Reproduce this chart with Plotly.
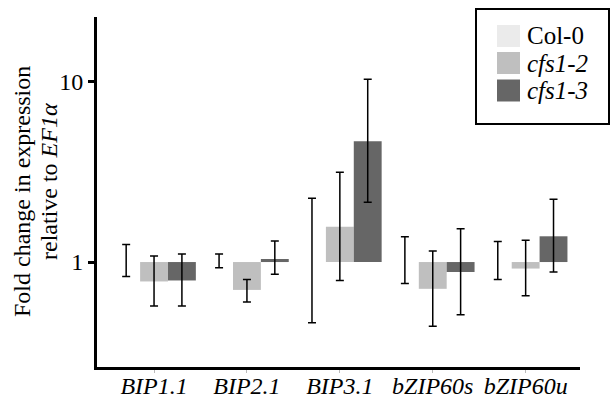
import plotly.graph_objects as go

genes = ["BIP1.1", "BIP2.1", "BIP3.1", "bZIP60s", "bZIP60u"]
series = ["Col-0", "cfs1-2", "cfs1-3"]
series_labels = ["Col-0", "<i>cfs1-2</i>", "<i>cfs1-3</i>"]
colors = ["#ebebeb", "#bfbfbf", "#666666"]

col0_vals = [1.0, 1.0, 1.0, 1.0, 1.0]
col0_hi = [1.25, 1.11, 2.26, 1.38, 1.30]
col0_lo = [0.83, 0.93, 0.46, 0.76, 0.80]

cfs12_vals = [0.78, 0.70, 1.57, 0.71, 0.92]
cfs12_hi = [1.08, 0.80, 3.15, 1.15, 1.32]
cfs12_lo = [0.57, 0.60, 0.79, 0.44, 0.65]

cfs13_vals = [0.79, 1.04, 4.68, 0.88, 1.39]
cfs13_hi = [1.11, 1.31, 10.35, 1.53, 2.23]
cfs13_lo = [0.57, 0.855, 2.15, 0.51, 0.88]

values = [col0_vals, cfs12_vals, cfs13_vals]
highs = [col0_hi, cfs12_hi, cfs13_hi]
lows = [col0_lo, cfs12_lo, cfs13_lo]

y_title_lines = ["Fold change in expression", "relative to <i>EF1α</i>"]

FONT = "Liberation Serif"

fig = go.Figure()
for name, c, v, hi, lo in zip(series, colors, values, highs, lows):
    fig.add_trace(go.Bar(
        x=genes,
        y=[vv - 1 for vv in v],
        base=1,
        name=name,
        marker=dict(color=c, line=dict(width=0)),
        error_y=dict(type="data", symmetric=False,
                     array=[h - vv for h, vv in zip(hi, v)],
                     arrayminus=[vv - l for vv, l in zip(v, lo)],
                     color="black", thickness=1.5, width=4),
        showlegend=False,
    ))

W, H = 611, 398
L, R, T, B = 97, 31, 17, 31
pw, ph = W - L - R, H - T - B

def px2paper(x, y):
    return (x - L) / pw, (H - B - y) / ph

shapes = []
annotations = []
# legend box
x0, y0 = px2paper(476, 9)
x1, y1 = px2paper(609, 124)
shapes.append(dict(type="rect", xref="paper", yref="paper", x0=x0, y0=y1, x1=x1, y1=y0,
                   line=dict(color="black", width=2), fillcolor="white", layer="above"))
sw_top = [25, 52, 79.5]
for i, (lab, c) in enumerate(zip(series_labels, colors)):
    ax0, ay0 = px2paper(497, sw_top[i])
    ax1, ay1 = px2paper(520, sw_top[i] + 22)
    shapes.append(dict(type="rect", xref="paper", yref="paper", x0=ax0, y0=ay1, x1=ax1, y1=ay0,
                       line=dict(width=0), fillcolor=c, layer="above"))
    tx, ty = px2paper(525, sw_top[i] + 11)
    annotations.append(dict(xref="paper", yref="paper", x=tx, y=ty, text=lab, showarrow=False,
                            xanchor="left", yanchor="middle", font=dict(family=FONT, size=25, color="black")))

# y-axis title as two rotated lines
for (cx, cy), txt in zip([(22, 192), (49, 182)], y_title_lines):
    ax_, ay_ = px2paper(cx, cy)
    annotations.append(dict(xref="paper", yref="paper", x=ax_, y=ay_, text=txt, showarrow=False,
                            textangle=-90, xanchor="center", yanchor="middle",
                            font=dict(family=FONT, size=24, color="black")))

fig.update_layout(
    width=W, height=H,
    margin=dict(l=L, r=R, t=T, b=B, pad=0, autoexpand=False),
    barmode="group", bargap=0.1, bargroupgap=0,
    plot_bgcolor="white", paper_bgcolor="white",
    font=dict(family=FONT, color="black"),
    shapes=shapes, annotations=annotations,
    showlegend=False,
)
fig.update_xaxes(
    range=[-0.614, 4.585], automargin=False,
    tickvals=genes, ticktext=["<i>%s</i>" % g for g in genes],
    tickfont=dict(family=FONT, size=24, color="black"),
    showline=True, linecolor="black", linewidth=3,
    ticks="outside", ticklen=3, tickcolor="#bbbbbb", tickwidth=1,
    ticklabelstandoff=-8,
    showgrid=False, zeroline=False,
)
fig.update_yaxes(
    type="log", range=[-0.583, 1.361], automargin=False,
    tickvals=[1, 10], ticktext=["1", "10"],
    tickfont=dict(family=FONT, size=24, color="black"),
    showline=True, linecolor="black", linewidth=3,
    ticks="outside", ticklen=6, tickwidth=3, tickcolor="black",
    showgrid=False, zeroline=False,
)

fig.write_html("out.html")
